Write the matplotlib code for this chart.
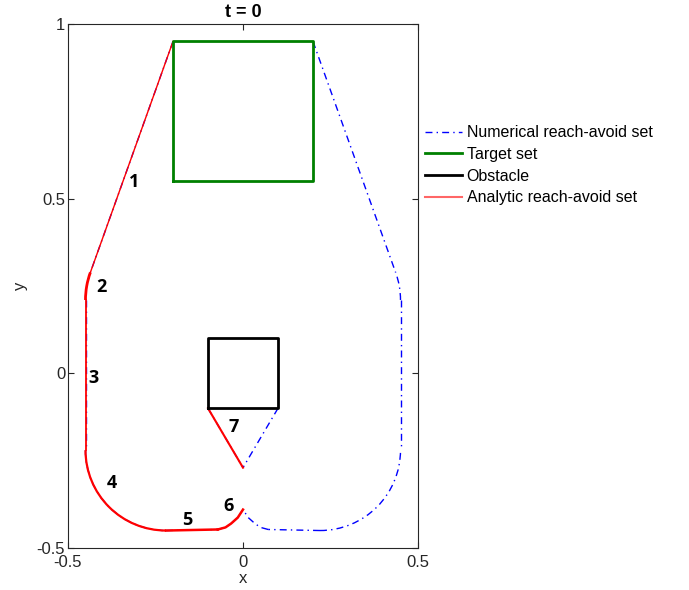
import matplotlib
matplotlib.use("Agg")
import matplotlib.pyplot as plt
from matplotlib.patches import Arc
from matplotlib.lines import Line2D

plt.rcParams["font.family"] = ["Liberation Sans", "DejaVu Sans"]

# sets
target_x = [-0.2, 0.2, 0.2, -0.2, -0.2]
target_y = [0.55, 0.55, 0.95, 0.95, 0.55]
obstacle_x = [-0.1, 0.1, 0.1, -0.1, -0.1]
obstacle_y = [-0.1, -0.1, 0.1, 0.1, -0.1]

# left half of the reach-avoid boundary (right half is the mirror)
line1_x = [-0.2, -0.436]
line1_y = [0.95, 0.289]
arc_r = 0.23
arc2_center = (-0.22, 0.21)
arc2_angles = (160, 180)
line3_x = [-0.45, -0.45]
line3_y = [0.21, -0.22]
arc4_center = (-0.22, -0.22)
arc4_angles = (180, 270)
line5_x = [-0.22, -0.072]
line5_y = [-0.45, -0.447]
curve6_x = [-0.072, -0.05, -0.034, -0.015, 0.0]
curve6_y = [-0.447, -0.441, -0.430, -0.413, -0.39]
line7_x = [-0.1, 0.0]
line7_y = [-0.1, -0.27]

labels = ["1", "2", "3", "4", "5", "6", "7"]
label_x = [-0.311, -0.403, -0.426, -0.374, -0.16, -0.04, -0.026]
label_y = [0.549, 0.246, -0.014, -0.314, -0.42, -0.38, -0.154]

blue = "#0000ff"
red = "#ff0000"
dashdot = (0, (5, 3, 1, 3))

fig = plt.figure(figsize=(6.89, 5.9), dpi=100)
ax = fig.add_axes([68 / 689, 42 / 590, 350 / 689, 524 / 590])

# numerical set (blue dash-dot), both halves
for s in (1, -1):
    kw = dict(color=blue, lw=1, ls=dashdot, zorder=2)
    ax.plot([s * v for v in line1_x], line1_y, **kw)
    ax.plot([s * v for v in line3_x], line3_y, **kw)
    ax.plot([s * v for v in line5_x], line5_y, **kw)
    ax.plot([s * v for v in curve6_x], curve6_y, **kw)
    ax.plot([s * v for v in line7_x], line7_y, **kw)
    for c, a in ((arc2_center, arc2_angles), (arc4_center, arc4_angles)):
        if s == 1:
            t1, t2 = a
        else:
            t1, t2 = 180 - a[1], 180 - a[0]
        ax.add_patch(Arc((s * c[0], c[1]), 2 * arc_r, 2 * arc_r, theta1=t1, theta2=t2,
                         color=blue, lw=1, ls=dashdot, zorder=2))

# analytic set (red), left half only
ax.plot(line1_x, line1_y, color=red, lw=1.0, zorder=3)
ax.add_patch(Arc(arc2_center, 2 * arc_r, 2 * arc_r, theta1=arc2_angles[0], theta2=arc2_angles[1],
                 color=red, lw=2, zorder=3))
ax.plot(line3_x, line3_y, color=red, lw=1.3, zorder=3)
ax.add_patch(Arc(arc4_center, 2 * arc_r, 2 * arc_r, theta1=arc4_angles[0], theta2=arc4_angles[1],
                 color=red, lw=1.6, zorder=3))
ax.plot(line5_x, line5_y, color=red, lw=1.8, zorder=3)
ax.plot(curve6_x, curve6_y, color=red, lw=1.8, zorder=3)
ax.plot(line7_x, line7_y, color=red, lw=1.5, zorder=3)

ax.plot(target_x, target_y, color="#008000", lw=2, zorder=4)
ax.plot(obstacle_x, obstacle_y, color="black", lw=2, zorder=4)

for t, x, y in zip(labels, label_x, label_y):
    ax.text(x, y, t, fontsize=13, fontweight="bold", ha="center", va="center",
            family=["Open Sans", "DejaVu Sans"])

ax.set_xlim(-0.5, 0.5)
ax.set_ylim(-0.5, 1)
ax.set_xticks([-0.5, 0, 0.5])
ax.set_xticklabels(["-0.5", "0", "0.5"])
ax.set_yticks([-0.5, 0, 0.5, 1])
ax.set_yticklabels(["-0.5", "0", "0.5", "1"])
ax.tick_params(direction="in", top=True, right=True, labelsize=12, length=4, pad=2,
               color="0.15", labelcolor="0.15")
ax.tick_params(axis="x", pad=5)
for sp in ax.spines.values():
    sp.set_color("0.15")
    sp.set_linewidth(0.8)
ax.set_xlabel("x", fontsize=12, color="0.15", labelpad=1)
ax.set_ylabel("y", fontsize=12, color="0.15", labelpad=6)
ax.set_title("t = 0", fontsize=13, fontweight="bold", pad=5)

handles = [
    Line2D([], [], color=blue, lw=1, ls=dashdot),
    Line2D([], [], color="#008000", lw=2),
    Line2D([], [], color="black", lw=2),
    Line2D([], [], color="#ff6666", lw=1.5),
]
names = ["Numerical reach-avoid set", "Target set", "Obstacle", "Analytic reach-avoid set"]
fig.legend(handles, names, loc="upper left", bbox_to_anchor=(422 / 689, 1 - 122 / 590),
           frameon=False, fontsize=11.5, handlelength=2.3, handletextpad=0.3,
           labelspacing=0.42, borderaxespad=0, borderpad=0.2)

fig.savefig("out.png", dpi=100)
